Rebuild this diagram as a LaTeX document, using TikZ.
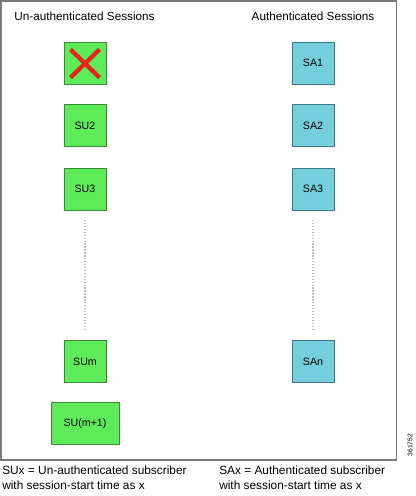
\documentclass[tikz,border=0pt]{standalone}
\usepackage{fontspec}
\setmainfont{Liberation Sans}
\definecolor{sugreen}{HTML}{5EEB5A}
\definecolor{sugreenb}{HTML}{3A8A36}
\definecolor{sablue}{HTML}{74CEDB}
\definecolor{sablueb}{HTML}{3A7A84}
\definecolor{framegray}{HTML}{7A7A7A}
\definecolor{xred}{HTML}{E8231C}
\begin{document}
\begin{tikzpicture}[x=0.75pt,y=-0.75pt,
  sessu/.style={draw=sugreenb,fill=sugreen,line width=0.6pt,minimum width=31.5pt,minimum height=31.5pt,inner sep=0pt,font=\fontsize{8}{9.6}\selectfont},
  sessa/.style={draw=sablueb,fill=sablue,line width=0.6pt,minimum width=31.5pt,minimum height=31.5pt,inner sep=0pt,font=\fontsize{8}{9.6}\selectfont},
  dotline/.style={draw=gray!50,line width=1.1pt,dash pattern=on 1pt off 1.2pt},
  title/.style={font=\fontsize{8.8}{10}\selectfont,inner sep=0pt},
  legend/.style={font=\fontsize{8.9}{11.2}\selectfont,inner sep=0pt,align=left,anchor=north west}]
\useasboundingbox (0,0) rectangle (416,496);
\fill[white] (0,0) rectangle (416,496);
\draw[framegray,line width=0.8pt] (1,1) rectangle (396.5,460);
\node[title] (t1) at (84.5,16) {Un-authenticated Sessions};
\node[title] (t2) at (313,16) {Authenticated Sessions};
% left column
\node[sessu] (su1) at (85,63) {};
\draw[xred,line width=3.2pt] (70.5,49.5) -- (99.5,77.5);
\draw[xred,line width=3.2pt] (99.5,49.5) -- (70.5,77.5);
\node[sessu] (su2) at (85,125.5) {SU2};
\node[sessu] (su3) at (85,189) {SU3};
\node[sessu] (sum) at (85,361.5) {SUm};
\node[sessu,minimum width=51pt] (sum1) at (85,423.5) {SU(m+1)};
\coordinate (l1) at (85,220);
\coordinate (l2) at (85,331);
\draw[dotline] (l1) -- (l2);
% right column
\node[sessa] (sa1) at (313,63) {SA1};
\node[sessa] (sa2) at (313,125.5) {SA2};
\node[sessa] (sa3) at (313,189) {SA3};
\node[sessa] (san) at (313,361.5) {SAn};
\coordinate (r1) at (313,220);
\coordinate (r2) at (313,331);
\draw[dotline] (r1) -- (r2);
% legends
\node[legend] (lg1) at (2,466) {SUx = Un-authenticated subscriber\\with session-start time as x};
\node[legend] (lg2) at (219,466) {SAx = Authenticated subscriber\\with session-start time as x};
\node[font=\fontsize{5}{6}\selectfont,rotate=90,inner sep=0pt] (id) at (410,445) {361752};
\end{tikzpicture}
\end{document}
